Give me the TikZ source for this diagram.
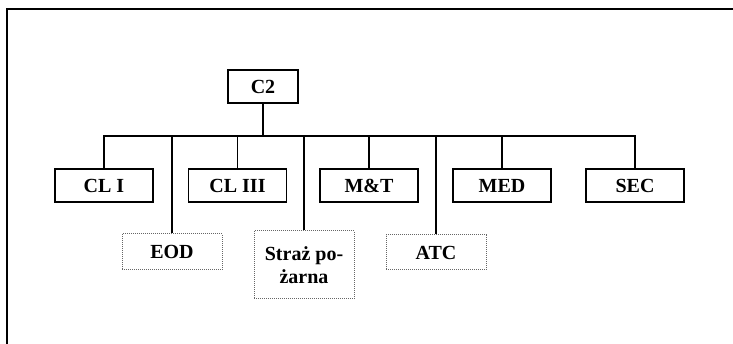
\documentclass[tikz,border=0pt]{standalone}
\usepackage{fontspec}
\setmainfont{Liberation Serif}
\begin{document}
\begin{tikzpicture}[
  x=1pt, y=-1pt,
  every node/.style={font=\fontsize{20}{23}\selectfont\bfseries, text=black, inner sep=0pt},
  unit/.style={draw=black, line width=1.6pt, minimum width=98pt, minimum height=33pt},
  support/.style={draw=black!60, densely dotted, line width=1pt, minimum width=100pt, minimum height=36pt, align=center},
  link/.style={draw=black, line width=1.5pt}
]
  \useasboundingbox (0,0) rectangle (733,344);
  % frame
  \draw[line width=1.2pt] (733,9) -- (7,9) -- (7,344);
  % command
  \node[unit, minimum width=70pt] (c2) at (263,86.5) {C2};
  \coordinate (bus) at (263,136);
  % units
  \node[unit] (cl1) at (104,185.5) {CL I};
  \node[unit] (cl3) at (237.5,185.5) {CL III};
  \node[unit] (mt) at (369,185.5) {M\&T};
  \node[unit] (med) at (502,185.5) {MED};
  \node[unit] (sec) at (635,185.5) {SEC};
  % supporting elements (dotted)
  \node[support] (eod) at (172,252) {EOD};
  \node[support, minimum height=68pt] (straz) at (304,265) {Straż po-\\żarna};
  \node[support, minimum height=35pt] (atc) at (436,252.5) {ATC};
  % connections
  \foreach \n in {cl1,eod,cl3,straz,mt,atc,med,sec}
    \draw[link] (c2.south) |- (bus -| \n.north) -- (\n.north);
\end{tikzpicture}
\end{document}
